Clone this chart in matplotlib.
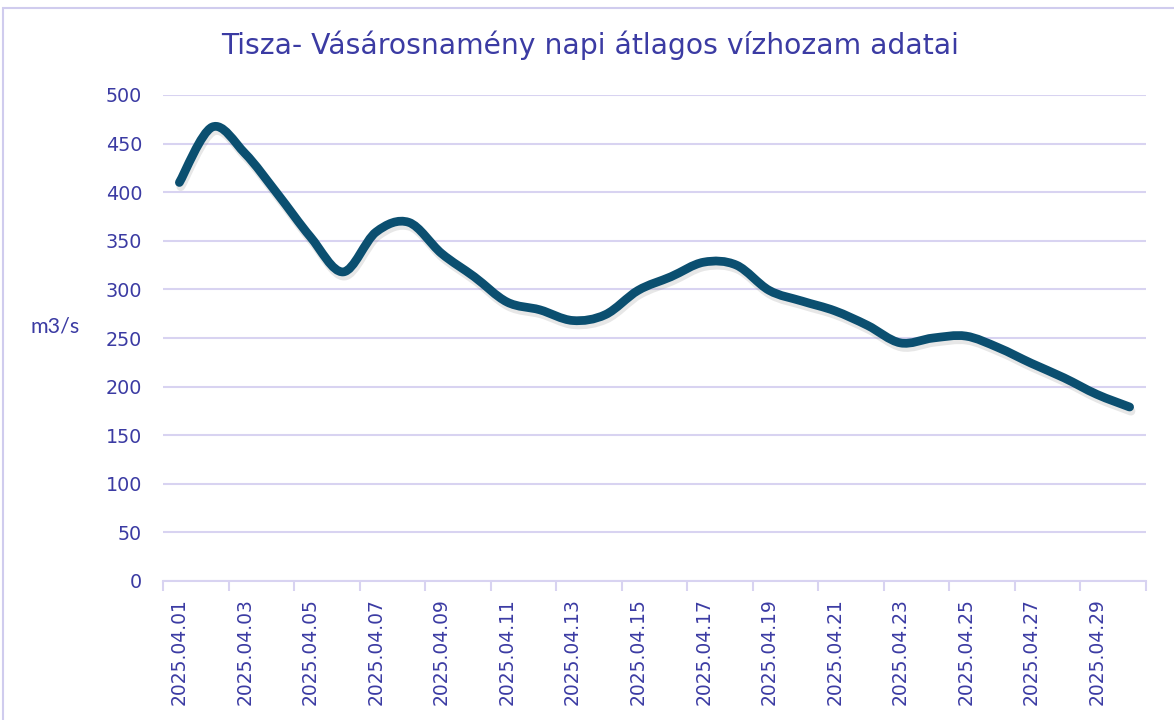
import matplotlib
matplotlib.use('Agg')
import matplotlib.pyplot as plt
import matplotlib.patheffects as pe
from matplotlib.path import Path
from matplotlib.patches import PathPatch, Rectangle
import numpy as np

# napi átlagos vízhozam, m3/s (2025.04.01 - 2025.04.30)
days = ['2025.04.%02d' % d for d in range(1, 31)]
flow = [410, 467, 440, 398, 354, 318, 359, 369, 337, 313,
        287, 279, 268, 274, 299, 313, 328, 325, 299, 288,
        278, 263, 245, 250, 252, 240, 224, 209, 192, 179]

title = 'Tisza- Vásárosnamény napi átlagos vízhozam adatai'
ylabel = 'm3/s'

txt = '#3B3BA3'
grid_c = '#D8D3F1'
line_c = '#0B4F70'

fig = plt.figure(figsize=(11.74, 7.2), dpi=100)
ax = fig.add_axes([163 / 1174, 1 - 581 / 720, 983 / 1174, (581 - 95) / 720])

# smoothed line (Catmull-Rom style bezier, like Excel's smooth line)
x = np.arange(1, len(flow) + 1, dtype=float)
y = np.array(flow, dtype=float)
px = np.concatenate([[x[0]], x, [x[-1]]])
py = np.concatenate([[y[0]], y, [y[-1]]])
verts = [(x[0], y[0])]
codes = [Path.MOVETO]
for i in range(1, len(px) - 2):
    c1 = (px[i] + (px[i + 1] - px[i - 1]) / 6, py[i] + (py[i + 1] - py[i - 1]) / 6)
    c2 = (px[i + 1] - (px[i + 2] - px[i]) / 6, py[i + 1] - (py[i + 2] - py[i]) / 6)
    verts += [c1, c2, (px[i + 1], py[i + 1])]
    codes += [Path.CURVE4] * 3
patch = PathPatch(Path(verts, codes), fill=False, edgecolor=line_c, lw=6.3,
                  capstyle='round', joinstyle='round', zorder=3)
patch.set_path_effects([pe.SimpleLineShadow(offset=(1, -3), shadow_color='#888888', alpha=0.2),
                        pe.Normal()])
ax.add_patch(patch)

ax.set_xlim(0.5, len(flow) + 0.5)
ax.set_ylim(0, 500)
ax.set_yticks(np.arange(0, 501, 50))
ax.grid(axis='y', color=grid_c, lw=1.5)
ax.set_axisbelow(True)

# boundaries every 2 days get tick marks, labels sit on the day centres
ax.set_xticks(np.arange(0.5, len(flow) + 1, 2))
ax.set_xticklabels([])
ax.set_xticks(x[::2], minor=True)
ax.set_xticklabels(days[::2], minor=True, rotation=90, color=txt, fontsize=13.5)
ax.tick_params(axis='x', which='major', length=7, width=1.5, color=grid_c, direction='out')
ax.tick_params(axis='x', which='minor', length=0, pad=12)
ax.tick_params(axis='y', length=0, pad=15, labelcolor=txt, labelsize=13.8)

for s in ['top', 'right', 'left']:
    ax.spines[s].set_visible(False)
ax.spines['bottom'].set_color(grid_c)
ax.spines['bottom'].set_linewidth(1.5)

fig.text(55 / 1174, 1 - 327 / 720, ylabel, color=txt, fontsize=15.5, family='Lato',
         ha='center', va='center')
fig.text(590 / 1174, 1 - 45 / 720, title, color=txt, fontsize=20.3,
         ha='center', va='center')

fig.patches.append(Rectangle((3 / 1174, -0.1), 1.2, 1.1 - 8 / 720, transform=fig.transFigure,
                             fill=False, edgecolor='#D0CCEE', lw=1.5))

fig.savefig('out.png', dpi=100)
